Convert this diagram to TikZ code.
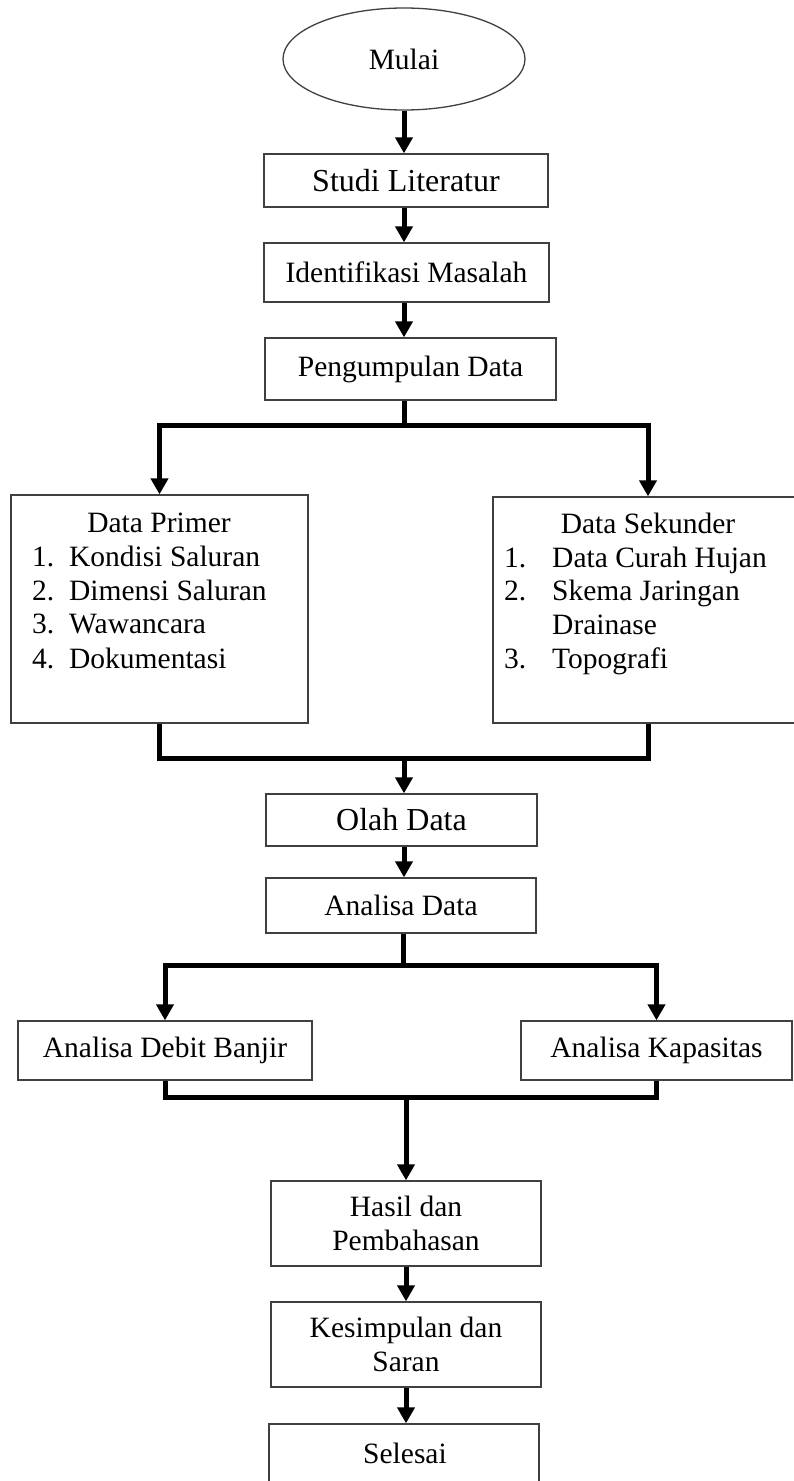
\documentclass[tikz,border=0pt]{standalone}
\usepackage{fontspec}
\setmainfont{Liberation Serif}
\usetikzlibrary{shapes.geometric,arrows.meta}
\tikzset{
  box/.style={draw=black!75, line width=1.3pt, rectangle, inner sep=0pt, align=center,
    font=\fontsize{29.5}{34}\selectfont},
  bigtxt/.style={font=\fontsize{32}{36}\selectfont},
  txt/.style={inner sep=0pt, font=\fontsize{29.5}{34}\selectfont},
  thk/.style={line width=5pt, line join=miter},
  arr/.style={line width=5pt, -{Triangle[width=17pt,length=16pt]}},
}
\begin{document}
\begin{tikzpicture}[x=1pt,y=-1pt]
\useasboundingbox (0,0) rectangle (794,1481);
% nodes
\node[box, ellipse, minimum width=242, minimum height=102] (mulai) at (404,59) {Mulai};
\node[box, bigtxt, minimum width=284, minimum height=53] (studi) at (406,180.5) {Studi Literatur};
\node[box, minimum width=285, minimum height=59] (ident) at (406.5,272.5) {Identifikasi Masalah};
\node[box, minimum width=291, minimum height=62] (pengump) at (410.5,369) {Pengumpulan Data};
\node[box, minimum width=297, minimum height=228] (prim) at (159.5,609) {};
\node[box, minimum width=310, minimum height=226] (sek) at (648,610) {};
\node[txt, anchor=base] (primT) at (159,532) {Data Primer};
\node[txt, anchor=base west] (p1n) at (32,566) {1.};
\node[txt, anchor=base west] (p1) at (69,566) {Kondisi Saluran};
\node[txt, anchor=base west] (p2n) at (32,600) {2.};
\node[txt, anchor=base west] (p2) at (69,600) {Dimensi Saluran};
\node[txt, anchor=base west] (p3n) at (32,633) {3.};
\node[txt, anchor=base west] (p3) at (69,633) {Wawancara};
\node[txt, anchor=base west] (p4n) at (32,668) {4.};
\node[txt, anchor=base west] (p4) at (69,668) {Dokumentasi};
\node[txt, anchor=base] (sekT) at (648,533) {Data Sekunder};
\node[txt, anchor=base west] (s1n) at (504,567) {1.};
\node[txt, anchor=base west] (s1) at (552,567) {Data Curah Hujan};
\node[txt, anchor=base west] (s2n) at (504,600) {2.};
\node[txt, anchor=base west] (s2) at (552,600) {Skema Jaringan};
\node[txt, anchor=base west] (s2b) at (552,634) {Drainase};
\node[txt, anchor=base west] (s3n) at (504,668) {3.};
\node[txt, anchor=base west] (s3) at (552,668) {Topografi};
\node[box, bigtxt, minimum width=271, minimum height=52] (olah) at (401.5,820) {Olah Data};
\node[box, minimum width=270, minimum height=55] (anal) at (401,905.5) {Analisa Data};
\node[box, minimum width=294, minimum height=59] (debit) at (165,1050.5) {Analisa Debit Banjir};
\node[box, minimum width=271, minimum height=59] (kap) at (656.5,1050.5) {Analisa Kapasitas};
\node[box, minimum width=270, minimum height=85] (hasil) at (406,1223.5) {Hasil dan\\Pembahasan};
\node[box, minimum width=270, minimum height=85] (kesim) at (406,1344.5) {Kesimpulan dan\\Saran};
\node[box, minimum width=270, minimum height=80] (sel) at (404,1464) {};
\node[txt, anchor=base] (selT) at (405,1463) {Selesai};
% junctions
\coordinate (j1) at (404,425);
\coordinate (j2) at (404,758);
\coordinate (j3) at (403,965);
\coordinate (j4) at (406,1097);
% connectors
\draw[arr] (mulai.south) -- (mulai.south |- studi.north);
\draw[arr] (studi.south -| mulai.south) -- (mulai.south |- ident.north);
\draw[arr] (ident.south -| mulai.south) -- (mulai.south |- pengump.north);
\draw[thk] (pengump.south -| j1) -- (j1);
\draw[arr] (j1) -| (prim.north);
\draw[arr] (j1) -| (sek.north);
\draw[thk] (prim.south) |- (j2) -| (sek.south);
\draw[arr] (j2) -- (j2 |- olah.north);
\draw[arr] (olah.south -| j2) -- (j2 |- anal.north);
\draw[thk] (anal.south -| j3) -- (j3);
\draw[arr] (j3) -| (debit.north);
\draw[arr] (j3) -| (kap.north);
\draw[thk] (debit.south) |- (j4) -| (kap.south);
\draw[arr] (j4) -- (hasil.north);
\draw[arr] (hasil.south) -- (kesim.north);
\draw[arr] (kesim.south) -- (kesim.south |- sel.north);
\end{tikzpicture}
\end{document}
